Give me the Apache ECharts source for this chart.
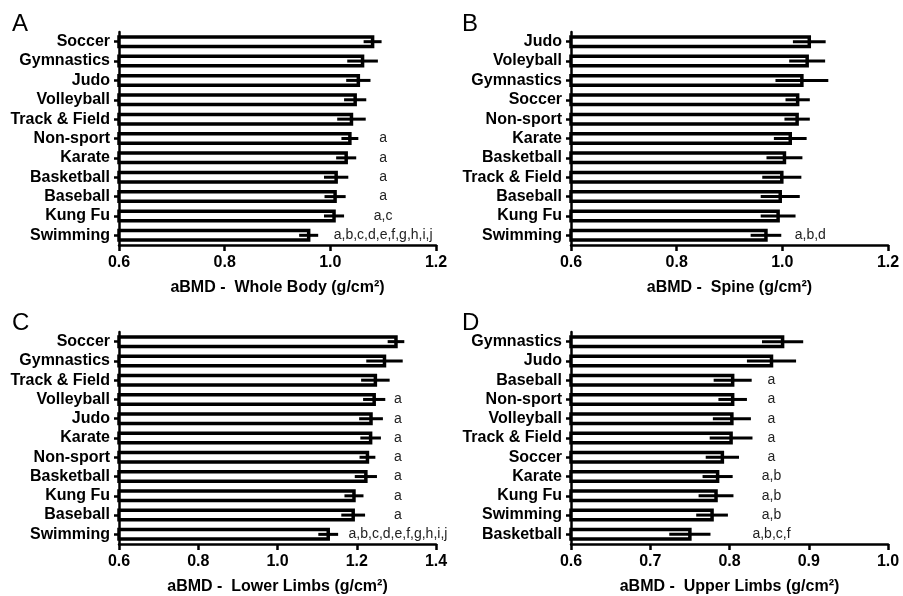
<!DOCTYPE html>
<html>
<head>
<meta charset="utf-8">
<script src="https://cdn.jsdelivr.net/npm/echarts@6/dist/echarts.min.js"></script>
<style>html,body{margin:0;padding:0;background:#fff}#c{width:903px;height:596px}</style>
</head>
<body>
<div id="c"></div>
<script>
// Panel A - Whole Body
var catsA = ['Soccer','Gymnastics','Judo','Volleyball','Track & Field','Non-sport','Karate','Basketball','Baseball','Kung Fu','Swimming'];
var meanA = [1.080,1.061,1.053,1.047,1.040,1.037,1.030,1.011,1.009,1.007,0.959];
var errA  = [0.017,0.029,0.023,0.021,0.027,0.016,0.019,0.023,0.020,0.019,0.018];
var noteA = ['','','','','','a','a','a','a','a,c','a,b,c,d,e,f,g,h,i,j'];
// Panel B - Spine
var catsB = ['Judo','Voleyball','Gymnastics','Soccer','Non-sport','Karate','Basketball','Track & Field','Baseball','Kung Fu','Swimming'];
var meanB = [1.051,1.047,1.037,1.029,1.028,1.015,1.004,0.999,0.996,0.992,0.969];
var errB  = [0.031,0.034,0.050,0.023,0.024,0.031,0.034,0.037,0.037,0.033,0.029];
var noteB = ['','','','','','','','','','','a,b,d'];
// Panel C - Lower Limbs
var catsC = ['Soccer','Gymnastics','Track & Field','Volleyball','Judo','Karate','Non-sport','Basketball','Kung Fu','Baseball','Swimming'];
var meanC = [1.299,1.270,1.247,1.244,1.236,1.235,1.227,1.223,1.193,1.191,1.128];
var errC  = [0.021,0.046,0.036,0.028,0.030,0.026,0.020,0.028,0.024,0.030,0.025];
var noteC = ['','','','a','a','a','a','a','a','a','a,b,c,d,e,f,g,h,i,j'];
// Panel D - Upper Limbs
var catsD = ['Gymnastics','Judo','Baseball','Non-sport','Volleyball','Track & Field','Soccer','Karate','Kung Fu','Swimming','Basketball'];
var meanD = [0.867,0.853,0.804,0.804,0.803,0.802,0.791,0.785,0.783,0.778,0.750];
var errD  = [0.026,0.031,0.024,0.018,0.024,0.027,0.021,0.019,0.022,0.020,0.026];
var noteD = ['','','a','a','a','a','a','a,b','a,b','a,b','a,b,c,f'];

var FONT = 'Liberation Sans, Arial, Helvetica, sans-serif';

var panels = [
  {letter:'A', cats:catsA, mean:meanA, err:errA, note:noteA, noteX:1.100, min:0.6, max:1.2, step:0.2,
   name:'aBMD -  Whole Body (g/cm\u00b2)', left:119, top:32, lx:12, ly:12},
  {letter:'B', cats:catsB, mean:meanB, err:errB, note:noteB, noteX:1.053, min:0.6, max:1.2, step:0.2,
   name:'aBMD -  Spine (g/cm\u00b2)', left:571, top:32, lx:462, ly:12},
  {letter:'C', cats:catsC, mean:meanC, err:errC, note:noteC, noteX:1.304, min:0.6, max:1.4, step:0.2,
   name:'aBMD -  Lower Limbs (g/cm\u00b2)', left:119, top:332, lx:12, ly:311},
  {letter:'D', cats:catsD, mean:meanD, err:errD, note:noteD, noteX:0.853, min:0.6, max:1.0, step:0.1,
   name:'aBMD -  Upper Limbs (g/cm\u00b2)', left:571, top:332, lx:462, ly:311}
];

var grid = [], xAxis = [], yAxis = [], series = [], graphic = [];
panels.forEach(function(p, i){
  grid.push({left:p.left, top:p.top, width:317, height:213, containLabel:false});
  xAxis.push({
    type:'value', gridIndex:i, min:p.min, max:p.max, interval:p.step,
    name:p.name, nameLocation:'middle', nameGap:35,
    nameTextStyle:{fontFamily:FONT, fontWeight:'bold', fontSize:16, color:'#000'},
    axisLine:{show:true, lineStyle:{color:'#000', width:2.5}},
    axisTick:{show:true, length:6, lineStyle:{color:'#000', width:2.5}},
    axisLabel:{fontFamily:FONT, fontWeight:'bold', fontSize:16, color:'#000', margin:10,
      formatter:function(v){return (Math.round(v*10)/10).toFixed(1);}},
    splitLine:{show:false}
  });
  yAxis.push({
    type:'category', gridIndex:i, data:p.cats, inverse:true,
    axisLine:{show:true, lineStyle:{color:'#000', width:2.5}},
    axisTick:{show:true, alignWithLabel:true, length:5, lineStyle:{color:'#000', width:2.5}},
    axisLabel:{fontFamily:FONT, fontWeight:'bold', fontSize:16, color:'#000', margin:9, interval:0},
    splitLine:{show:false}
  });
  series.push({
    type:'custom', xAxisIndex:i, yAxisIndex:i, animation:false, z:2,
    data:p.mean.map(function(m,k){return [m, k];}),
    encode:{x:0, y:1},
    renderItem:function(params, api){
      var m = api.value(0), k = api.value(1);
      var a = api.coord([p.min, k]), b = api.coord([m, k]);
      var h = 9.5;
      return {type:'rect', shape:{x:a[0], y:a[1]-h/2, width:b[0]-a[0], height:h},
        style:{fill:'#fff', stroke:'#000', lineWidth:3.5}};
    }
  });
  series.push({
    type:'custom', xAxisIndex:i, yAxisIndex:i, animation:false, z:3,
    data:p.mean.map(function(m,k){return [m, k, p.err[k]];}),
    encode:{x:0, y:1},
    renderItem:function(params, api){
      var m = api.value(0), k = api.value(1), e = api.value(2);
      var a = api.coord([m-e, k]), b = api.coord([m+e, k]);
      return {type:'line', shape:{x1:a[0], y1:a[1], x2:b[0], y2:b[1]},
        style:{stroke:'#000', lineWidth:3}};
    }
  });
  var nd = [];
  p.note.forEach(function(t,k){ if(t) nd.push([p.noteX, k, t]); });
  series.push({
    type:'custom', xAxisIndex:i, yAxisIndex:i, animation:false, z:4,
    data:nd, encode:{x:0, y:1},
    renderItem:function(params, api){
      var idx = params.dataIndex;
      var pt = api.coord([api.value(0), api.value(1)]);
      return {type:'text', style:{text:nd[idx][2], x:pt[0], y:pt[1], textAlign:'center', textVerticalAlign:'middle',
        font:'14px ' + FONT, fill:'#222'}};
    }
  });
  graphic.push({type:'text', left:p.lx, top:p.ly, style:{text:p.letter, font:'24px ' + FONT, fill:'#000'}});
});

var chart = echarts.init(document.getElementById('c'), null, {renderer:'canvas'});
chart.setOption({animation:false, backgroundColor:'#fff', grid:grid, xAxis:xAxis, yAxis:yAxis, series:series, graphic:graphic});
</script>
</body>
</html>
